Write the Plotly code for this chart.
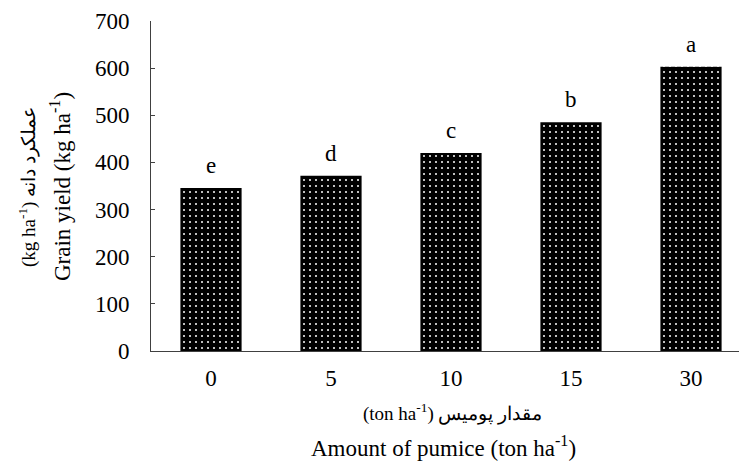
import plotly.graph_objects as go

categories = ["0", "5", "10", "15", "30"]
grain_yield = [346, 372, 420, 485, 603]
letters = ["e", "d", "c", "b", "a"]
y_ticks = [0, 100, 200, 300, 400, 500, 600, 700]

SERIF = "Liberation Serif, Times New Roman, serif"
L, T, W, H = 151, 21, 739, 467
B = 116

def px_x(px):
    return (px - L) / (W - L)

def px_y(py):
    return (H - B - py) / (H - B - T)

fig = go.Figure()
fig.add_trace(go.Bar(
    x=categories, y=grain_yield, width=0.51,
    marker=dict(color="black", line=dict(width=0),
                pattern=dict(shape=".", size=6, solidity=0.09,
                             fgcolor="white", bgcolor="black", fillmode="replace")),
    showlegend=False,
))

annotations = []
for i, (v, t) in enumerate(zip(grain_yield, letters)):
    annotations.append(dict(x=i, y=v, xref="x", yref="y", text=t, showarrow=False,
                            yanchor="bottom", yshift=8,
                            font=dict(family=SERIF, size=23, color="black")))

annotations += [
    dict(xref="paper", yref="paper", x=px_x(452), y=px_y(412),
         text="(ton ha<sup>-1</sup>) مقدار پومیس", showarrow=False,
         xanchor="center", yanchor="middle",
         font=dict(family=SERIF, size=19, color="black")),
    dict(xref="paper", yref="paper", x=px_x(443), y=px_y(446),
         text="Amount of pumice (ton ha<sup>-1</sup>)", showarrow=False,
         xanchor="center", yanchor="middle",
         font=dict(family=SERIF, size=23, color="black")),
    dict(xref="paper", yref="paper", x=px_x(60), y=px_y(187),
         text="Grain yield (kg ha<sup>-1</sup>)", showarrow=False, textangle=-90,
         xanchor="center", yanchor="middle",
         font=dict(family=SERIF, size=23, color="black")),
    dict(xref="paper", yref="paper", x=px_x(27), y=px_y(187),
         text="(kg ha<sup>-1</sup>) عملکرد دانه", showarrow=False, textangle=-90,
         xanchor="center", yanchor="middle",
         font=dict(family=SERIF, size=19, color="black")),
]

fig.update_layout(
    width=W, height=H,
    margin=dict(l=L, r=0, t=T, b=B),
    plot_bgcolor="white", paper_bgcolor="white",
    font=dict(family=SERIF, size=23, color="black"),
    annotations=annotations,
    xaxis=dict(type="category", range=[-0.5, 4.4], showline=True, linecolor="#404040",
               linewidth=1, ticks="", showgrid=False, zeroline=False,
               tickfont=dict(family=SERIF, size=23, color="black"),
               ticklabelstandoff=6),
    yaxis=dict(range=[0, 700], tickvals=y_ticks, showline=True, linecolor="#404040",
               linewidth=1, ticks="inside", ticklen=4, tickcolor="#404040",
               showgrid=False, zeroline=False,
               tickfont=dict(family=SERIF, size=23, color="black"),
               ticklabelstandoff=16),
)

fig.write_html("out.html")
